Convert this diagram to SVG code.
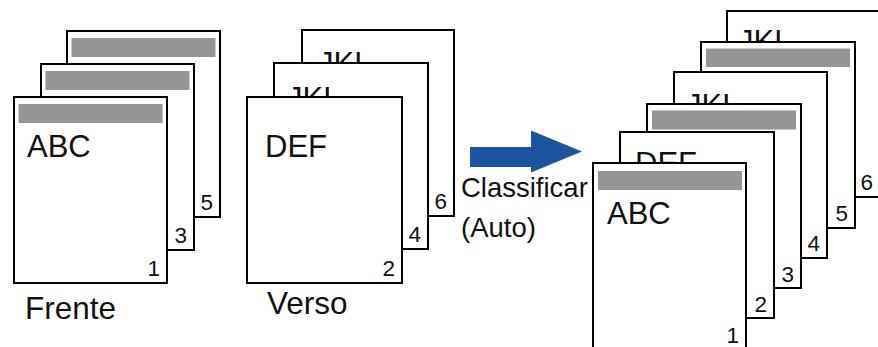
<svg xmlns="http://www.w3.org/2000/svg" width="878" height="347" viewBox="0 0 878 347">
<style>
.pg{fill:#fff;stroke:#000;stroke-width:2}
.bar{fill:#959595}
.big{font-family:"Liberation Sans",Arial,sans-serif;font-size:31px;fill:#111}
.num{font-family:"Liberation Sans",Arial,sans-serif;font-size:22.5px;fill:#111;text-anchor:end}
.lbl{font-family:"Liberation Sans",Arial,sans-serif;font-size:31.5px;fill:#111}
.cls{font-family:"Liberation Sans",Arial,sans-serif;font-size:27.5px;fill:#111}
</style>
<rect width="878" height="347" fill="#fff"/>
<g id="frente">
  <g id="f5"><rect class="pg" x="67" y="31" width="153" height="186"/><rect class="bar" x="71.5" y="38" width="144" height="19"/><text class="num" x="213" y="210">5</text></g>
  <g id="f3"><rect class="pg" x="41" y="64" width="153" height="186"/><rect class="bar" x="45.5" y="71" width="144" height="19"/><text class="num" x="187" y="243">3</text></g>
  <g id="f1"><rect class="pg" x="14" y="97" width="153" height="186"/><rect class="bar" x="18.5" y="104" width="144" height="19"/><text class="big" x="27" y="157">ABC</text><text class="num" x="160" y="276">1</text></g>
  <text class="lbl" x="25" y="319">Frente</text>
</g>
<g id="verso">
  <g id="v6"><rect class="pg" x="302" y="30" width="152" height="186"/><text class="big" x="318" y="74">JKL</text><text class="num" x="447" y="209">6</text></g>
  <g id="v4"><rect class="pg" x="274" y="63" width="154" height="186"/><text class="big" x="287" y="109">JKL</text><text class="num" x="421" y="242">4</text></g>
  <g id="v2"><rect class="pg" x="247" y="97" width="155" height="186"/><text class="big" x="265" y="157">DEF</text><text class="num" x="395" y="276">2</text></g>
  <text class="lbl" x="267" y="314">Verso</text>
</g>
<g id="connectors">
  <polygon id="arrow" points="470,147 531,147 531,130.5 582,151.5 531,172.5 531,167 470,167" fill="#1c54a0"/>
  <text class="cls" x="461" y="197">Classificar</text>
  <text class="cls" x="461" y="237">(Auto)</text>
</g>
<g id="sorted">
  <g id="s6"><rect class="pg" x="727" y="11" width="160" height="186"/><text class="big" x="738" y="52">JKL</text><text class="num" x="873" y="190">6</text></g>
  <g id="s5"><rect class="pg" x="701" y="42" width="154" height="186"/><rect class="bar" x="706" y="48.5" width="144" height="18.5"/><text class="num" x="848" y="221">5</text></g>
  <g id="s4"><rect class="pg" x="674" y="72" width="153" height="186"/><text class="big" x="686" y="116">JKL</text><text class="num" x="820" y="251">4</text></g>
  <g id="s3"><rect class="pg" x="647" y="104" width="154" height="184"/><rect class="bar" x="652" y="110.5" width="144" height="19"/><text class="num" x="794" y="282">3</text></g>
  <g id="s2"><rect class="pg" x="620" y="132" width="154" height="186"/><text class="big" x="635" y="174">DEF</text><text class="num" x="767" y="312">2</text></g>
  <g id="s1"><rect class="pg" x="593" y="163" width="153" height="190"/><rect class="bar" x="598" y="171" width="144" height="19"/><text class="big" x="607" y="224">ABC</text><text class="num" x="739" y="343">1</text></g>
</g>
</svg>
